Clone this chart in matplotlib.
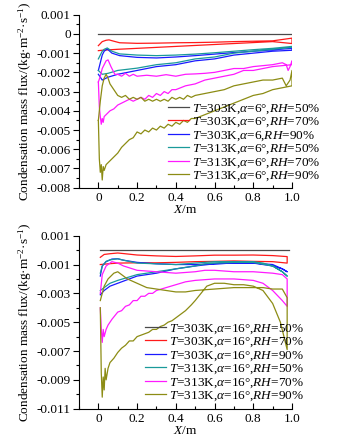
import numpy as np
import matplotlib
matplotlib.use("Agg")
import matplotlib.pyplot as plt
from matplotlib.ticker import MultipleLocator, FixedLocator, FixedFormatter

plt.rcParams['font.family'] = ['Liberation Serif', 'DejaVu Serif']
plt.rcParams['mathtext.fontset'] = 'custom'
plt.rcParams['mathtext.rm'] = 'Liberation Serif'
plt.rcParams['mathtext.it'] = 'Liberation Serif:italic'
plt.rcParams['axes.unicode_minus'] = False

# ---------------- top panel, alpha = 6 deg ----------------
a_black_x = [0.0, 1.0]
a_black_y = [0.0, 0.0]

a_red_up_x = [0, 0.02, 0.04, 0.055, 0.08, 0.11, 0.2, 0.3, 0.4, 0.5, 0.6, 0.7, 0.8, 0.9, 1.0]
a_red_up_y = [-0.00061, -0.0004, -0.00033, -0.00031, -0.00038, -0.00046, -0.00049, -0.00048,
              -0.00046, -0.00045, -0.00043, -0.0004, -0.00038, -0.00036, -0.00022]
a_red_lo_x = [0, 0.02, 0.05, 0.1, 0.2, 0.3, 0.4, 0.5, 0.6, 0.7, 0.8, 0.9, 1.0]
a_red_lo_y = [-0.00087, -0.00085, -0.00083, -0.0008, -0.00075, -0.0007, -0.00065, -0.0006,
              -0.00055, -0.0005, -0.00045, -0.0004, -0.0005]

a_blue_up_x = [0, 0.01, 0.02, 0.03, 0.046, 0.07, 0.11, 0.2, 0.3, 0.4, 0.5, 0.6, 0.7, 0.8, 0.9, 1.0]
a_blue_up_y = [-0.0019, -0.0015, -0.0011, -0.0009, -0.00078, -0.001, -0.00113, -0.00122, -0.00125,
               -0.0012, -0.00113, -0.00105, -0.00097, -0.0009, -0.00083, -0.00075]
a_blue_lo_x = [0, 0.02, 0.05, 0.1, 0.2, 0.3, 0.4, 0.5, 0.6, 0.7, 0.8, 0.9, 1.0]
a_blue_lo_y = [-0.0021, -0.0024, -0.00225, -0.0021, -0.0019, -0.0017, -0.0016, -0.0014, -0.0013,
               -0.0011, -0.001, -0.0009, -0.00085]

a_teal_up_x = [0, 0.01, 0.02, 0.03, 0.046, 0.07, 0.11, 0.2, 0.3, 0.4, 0.5, 0.6, 0.7, 0.8, 0.9, 1.0]
a_teal_up_y = [-0.0013, -0.0011, -0.0009, -0.0008, -0.00073, -0.0009, -0.00104, -0.0011, -0.00113,
               -0.0011, -0.00105, -0.00098, -0.0009, -0.00082, -0.00075, -0.00065]
a_teal_lo_x = [0, 0.02, 0.05, 0.1, 0.2, 0.3, 0.4, 0.5, 0.6, 0.7, 0.8, 0.9, 1.0]
a_teal_lo_y = [-0.0019, -0.0021, -0.00205, -0.0019, -0.00178, -0.0016, -0.0015, -0.0013, -0.0012,
               -0.001, -0.0009, -0.0008, -0.0007]

a_mag_up_x = [0, 0.01, 0.02, 0.03, 0.04, 0.05, 0.065, 0.085, 0.1, 0.12, 0.14, 0.16, 0.18, 0.2,
              0.25, 0.3, 0.35, 0.4, 0.45, 0.5, 0.55, 0.6, 0.65, 0.7, 0.75, 0.8, 0.85, 0.9, 0.95,
              0.97, 0.98, 0.99, 1.0]
a_mag_up_y = [-0.0025, -0.0022, -0.0018, -0.0016, -0.0014, -0.00135, -0.0017, -0.0021, -0.0021,
              -0.0022, -0.00205, -0.0022, -0.0021, -0.0022, -0.00215, -0.0022, -0.00212, -0.0022,
              -0.0021, -0.00208, -0.00205, -0.002, -0.0019, -0.0018, -0.0018, -0.0017, -0.00165,
              -0.0016, -0.0015, -0.0016, -0.0019, -0.0017, -0.0014]
a_mag_lo_x = [0, 0.005, 0.01, 0.015, 0.02, 0.025, 0.03, 0.04, 0.05, 0.06, 0.08, 0.1, 0.12, 0.14,
              0.16, 0.18, 0.2, 0.22, 0.24, 0.26, 0.28, 0.3, 0.32, 0.34, 0.36, 0.38, 0.4, 0.45, 0.5,
              0.55, 0.6, 0.65, 0.7, 0.75, 0.8, 0.85, 0.9, 0.95, 1.0]
a_mag_lo_y = [-0.0025, -0.0038, -0.0043, -0.0047, -0.0044, -0.0046, -0.0043, -0.0042, -0.0041,
              -0.004, -0.0039, -0.0037, -0.0036, -0.0035, -0.0034, -0.0035, -0.0034, -0.0033,
              -0.0034, -0.0032, -0.0033, -0.0031, -0.0032, -0.003, -0.0031, -0.0029, -0.0029,
              -0.0027, -0.0026, -0.0024, -0.0023, -0.0022, -0.0021, -0.0019, -0.0019, -0.0018,
              -0.0017, -0.00165, -0.0016]

a_olv_up_x = [0, 0.01, 0.02, 0.03, 0.04, 0.05, 0.06, 0.08, 0.1, 0.12, 0.14, 0.16, 0.18, 0.2, 0.22,
              0.24, 0.26, 0.28, 0.3, 0.32, 0.34, 0.36, 0.38, 0.4, 0.42, 0.44, 0.46, 0.48, 0.5,
              0.55, 0.6, 0.65, 0.7, 0.75, 0.8, 0.85, 0.9, 0.95, 0.97, 0.99, 1.0]
a_olv_up_y = [-0.0045, -0.0035, -0.0027, -0.0023, -0.0021, -0.0023, -0.0026, -0.0029, -0.0032,
              -0.0033, -0.0032, -0.0034, -0.0033, -0.0034, -0.0033, -0.0035, -0.0034, -0.0035,
              -0.0034, -0.0035, -0.0034, -0.0035, -0.0033, -0.0034, -0.0033, -0.0034, -0.0032,
              -0.0033, -0.0032, -0.0031, -0.003, -0.0029, -0.0027, -0.0026, -0.0025, -0.0024,
              -0.0024, -0.0023, -0.0027, -0.0024, -0.0019]
a_olv_lo_x = [0, 0.005, 0.01, 0.015, 0.02, 0.025, 0.03, 0.04, 0.05, 0.06, 0.08, 0.1, 0.12, 0.14,
              0.16, 0.18, 0.2, 0.22, 0.24, 0.26, 0.28, 0.3, 0.32, 0.34, 0.36, 0.38, 0.4, 0.42,
              0.44, 0.46, 0.48, 0.5, 0.55, 0.6, 0.65, 0.7, 0.75, 0.8, 0.85, 0.9, 0.95, 1.0]
a_olv_lo_y = [-0.0045, -0.0065, -0.0072, -0.0068, -0.0076, -0.0069, -0.0071, -0.0068, -0.0067,
              -0.0066, -0.0064, -0.0062, -0.0059, -0.0057, -0.0055, -0.0054, -0.0051, -0.0052,
              -0.005, -0.0051, -0.0049, -0.005, -0.0048, -0.0049, -0.0047, -0.0048, -0.0046,
              -0.0047, -0.0045, -0.0046, -0.0044, -0.0044, -0.0042, -0.004, -0.0038, -0.0036,
              -0.0034, -0.0032, -0.0031, -0.0029, -0.0028, -0.0027]

# ---------------- bottom panel, alpha = 16 deg ----------------
b_black_x = [0.01, 0.985]
b_black_y = [0.0, 0.0]

b_red_up_x = [0.01, 0.03, 0.06, 0.1, 0.13, 0.2, 0.3, 0.4, 0.5, 0.6, 0.7, 0.8, 0.9, 0.975]
b_red_up_y = [-0.0005, -0.0003, -0.00025, -0.0002, -0.00024, -0.00034, -0.0004, -0.00044,
              -0.0004, -0.00035, -0.00035, -0.00034, -0.00038, -0.00045]
b_red_lo_x = [0.01, 0.05, 0.1, 0.2, 0.3, 0.4, 0.5, 0.6, 0.7, 0.8, 0.9, 0.975]
b_red_lo_y = [-0.001, -0.00095, -0.0009, -0.00088, -0.00088, -0.00085, -0.0008, -0.00078,
              -0.00075, -0.00078, -0.0008, -0.0009]

b_blue_up_x = [0.01, 0.02, 0.04, 0.07, 0.1, 0.13, 0.2, 0.3, 0.4, 0.5, 0.6, 0.7, 0.8, 0.9, 0.95, 0.975]
b_blue_up_y = [-0.0018, -0.0011, -0.0008, -0.00062, -0.0006, -0.0007, -0.00085, -0.00095, -0.001,
               -0.001, -0.00095, -0.0009, -0.0009, -0.001, -0.0013, -0.0015]
b_blue_lo_x = [0.01, 0.03, 0.06, 0.1, 0.2, 0.3, 0.4, 0.5, 0.6, 0.7, 0.8, 0.9, 0.95, 0.975]
b_blue_lo_y = [-0.0031, -0.0028, -0.0025, -0.0023, -0.0018, -0.0016, -0.0013, -0.0011, -0.00095,
               -0.0009, -0.0009, -0.0011, -0.0013, -0.0015]

b_teal_up_x = [0.01, 0.02, 0.04, 0.06, 0.1, 0.13, 0.2, 0.3, 0.4, 0.5, 0.55, 0.6, 0.7, 0.8, 0.85,
               0.9, 0.95, 0.975]
b_teal_up_y = [-0.0016, -0.0011, -0.00078, -0.00068, -0.0006, -0.0007, -0.0009, -0.00095, -0.001,
               -0.0009, -0.00085, -0.0008, -0.0008, -0.0008, -0.0009, -0.0011, -0.0015, -0.0018]
b_teal_lo_x = [0.01, 0.03, 0.06, 0.1, 0.2, 0.3, 0.4, 0.5, 0.55, 0.6, 0.7, 0.8, 0.9, 0.95, 0.975]
b_teal_lo_y = [-0.0028, -0.0026, -0.0023, -0.0021, -0.0017, -0.0015, -0.0013, -0.0011, -0.00095,
               -0.0009, -0.00085, -0.00085, -0.0011, -0.0015, -0.0018]

b_mag_up_x = [0.01, 0.02, 0.04, 0.07, 0.1, 0.13, 0.2, 0.3, 0.4, 0.5, 0.55, 0.6, 0.7, 0.8, 0.9,
              0.95, 0.975]
b_mag_up_y = [-0.003, -0.0017, -0.0011, -0.0008, -0.0009, -0.0011, -0.0014, -0.0015, -0.0016,
              -0.0015, -0.0014, -0.0014, -0.0015, -0.0015, -0.0016, -0.0017, -0.002]
b_mag_lo_x = [0.01, 0.015, 0.02, 0.025, 0.03, 0.04, 0.05, 0.07, 0.1, 0.12, 0.14, 0.16, 0.18, 0.2,
              0.22, 0.24, 0.26, 0.28, 0.3, 0.35, 0.4, 0.45, 0.5, 0.6, 0.7, 0.8, 0.85, 0.9, 0.95, 0.975]
b_mag_lo_y = [-0.004, -0.0055, -0.0064, -0.0055, -0.006, -0.0055, -0.0052, -0.0048, -0.0043,
              -0.0042, -0.0039, -0.0038, -0.0035, -0.0035, -0.0032, -0.0032, -0.003, -0.003,
              -0.0028, -0.0026, -0.0024, -0.0022, -0.0021, -0.002, -0.002, -0.0021, -0.0023,
              -0.0028, -0.0035, -0.0039]

b_olv_up_x = [0.01, 0.03, 0.05, 0.08, 0.1, 0.12, 0.15, 0.2, 0.25, 0.3, 0.35, 0.4, 0.45, 0.5, 0.6,
              0.7, 0.75, 0.8, 0.85, 0.9, 0.95, 0.975]
b_olv_up_y = [-0.0035, -0.0025, -0.002, -0.0016, -0.0015, -0.0017, -0.002, -0.0023, -0.0026,
              -0.0027, -0.0028, -0.0029, -0.0029, -0.0028, -0.0027, -0.0026, -0.0026, -0.0026,
              -0.0026, -0.0027, -0.0027, -0.0033]
b_olv_lo_x = [0.01, 0.015, 0.02, 0.025, 0.03, 0.035, 0.04, 0.05, 0.06, 0.08, 0.1, 0.12, 0.14, 0.16,
              0.18, 0.2, 0.22, 0.24, 0.26, 0.28, 0.3, 0.32, 0.34, 0.36, 0.38, 0.4, 0.42, 0.45,
              0.48, 0.5, 0.53, 0.56, 0.6, 0.65, 0.7, 0.75, 0.8, 0.85, 0.9, 0.94, 0.975]
b_olv_lo_y = [-0.004, -0.0085, -0.0102, -0.0088, -0.0097, -0.0082, -0.009, -0.0082, -0.0078,
              -0.0075, -0.0071, -0.0068, -0.0066, -0.0063, -0.0063, -0.006, -0.0059, -0.0058,
              -0.0057, -0.0055, -0.0055, -0.0053, -0.0052, -0.005, -0.0049, -0.0047, -0.0045,
              -0.0042, -0.0038, -0.0035, -0.003, -0.0025, -0.0023, -0.0023, -0.0024, -0.0024,
              -0.0025, -0.0028, -0.0037, -0.005, -0.0069]

colors = ['#4a4a4a', '#ff1a1a', '#1a1aff', '#1a9a9a', '#ff1aff', '#8c8c14']
labels_a = [r'$T$=303K,$\alpha$=6°,$RH$=50%', r'$T$=303K,$\alpha$=6°,$RH$=70%',
            r'$T$=303K,$\alpha$=6,$RH$=90%', r'$T$=313K,$\alpha$=6°,$RH$=50%',
            r'$T$=313K,$\alpha$=6°,$RH$=70%', r'$T$=313K,$\alpha$=6°,$RH$=90%']
labels_b = [r'$T$=303K,$\alpha$=16°,$RH$=50%', r'$T$=303K,$\alpha$=16°,$RH$=70%',
            r'$T$=303K,$\alpha$=16°,$RH$=90%', r'$T$=313K,$\alpha$=16°,$RH$=50%',
            r'$T$=313K,$\alpha$=16°,$RH$=70%', r'$T$=313K,$\alpha$=16°,$RH$=90%']

top_series = [
    (a_black_x, a_black_y, None, None),
    (a_red_up_x, a_red_up_y, a_red_lo_x, a_red_lo_y),
    (a_blue_up_x, a_blue_up_y, a_blue_lo_x, a_blue_lo_y),
    (a_teal_up_x, a_teal_up_y, a_teal_lo_x, a_teal_lo_y),
    (a_mag_up_x, a_mag_up_y, a_mag_lo_x, a_mag_lo_y),
    (a_olv_up_x, a_olv_up_y, a_olv_lo_x, a_olv_lo_y),
]
bot_series = [
    (b_black_x, b_black_y, None, None),
    (b_red_up_x, b_red_up_y, b_red_lo_x, b_red_lo_y),
    (b_blue_up_x, b_blue_up_y, b_blue_lo_x, b_blue_lo_y),
    (b_teal_up_x, b_teal_up_y, b_teal_lo_x, b_teal_lo_y),
    (b_mag_up_x, b_mag_up_y, b_mag_lo_x, b_mag_lo_y),
    (b_olv_up_x, b_olv_up_y, b_olv_lo_x, b_olv_lo_y),
]

fs = 9.5
fig = plt.figure(figsize=(3.39, 4.42), dpi=100)
ax1 = fig.add_axes([79/339, 1-187.7/442, (292-79)/339, (187.7-14.7)/442])
ax2 = fig.add_axes([79/339, 1-408.7/442, (292-79)/339, (408.7-235.7)/442])


def draw(ax, series, labels, ymin, ymax, yticks, ylabels, leg_x, leg_y):
    for (ux, uy, lx, ly), c, lab in zip(series, colors, labels):
        if lx is None:
            xx, yy = ux, uy
        else:
            # trace one side forward, the other side back -> closed loop
            xx = list(ux) + list(lx)[::-1]
            yy = list(uy) + list(ly)[::-1]
        ax.plot(xx, yy, color=c, lw=0.9, label=lab)
    ax.set_xlim(-0.1, 1.0)
    ax.set_ylim(ymin, ymax)
    ax.spines['top'].set_visible(False)
    ax.spines['right'].set_visible(False)
    ax.spines['left'].set_linewidth(0.8)
    ax.spines['bottom'].set_linewidth(0.8)
    ax.set_xticks([0, 0.2, 0.4, 0.6, 0.8, 1.0])
    ax.set_xticklabels(['0', '0.2', '0.4', '0.6', '0.8', '1.0'])
    ax.xaxis.set_minor_locator(MultipleLocator(0.1))
    ax.yaxis.set_major_locator(FixedLocator(yticks))
    ax.yaxis.set_major_formatter(FixedFormatter(ylabels))
    ax.yaxis.set_minor_locator(MultipleLocator(0.0005 if ymin > -0.009 else 0.001))
    ax.tick_params(axis='x', which='both', direction='in', labelsize=fs, pad=3)
    ax.tick_params(axis='x', which='major', length=4, width=0.8)
    ax.tick_params(axis='x', which='minor', length=2.5, width=0.8)
    ax.tick_params(axis='y', which='both', direction='out', labelsize=fs, pad=2)
    ax.tick_params(axis='y', which='major', length=4, width=0.8)
    ax.tick_params(axis='y', which='minor', length=2.5, width=0.8)
    ax.set_xlabel(r'$X$/m', fontsize=fs, labelpad=0)
    ax.set_ylabel(r'Condensation mass flux/(kg·m$^{-2}$·s$^{-1}$)', fontsize=fs, labelpad=2)
    ax.legend(loc='upper left', bbox_to_anchor=(leg_x, leg_y), bbox_transform=fig.transFigure,
              frameon=False, fontsize=fs, handlelength=1.6, handletextpad=0.25,
              labelspacing=0.0, borderpad=0, borderaxespad=0)


draw(ax1, top_series, labels_a, -0.008, 0.001,
     [0.001, 0, -0.001, -0.002, -0.003, -0.004, -0.005, -0.006, -0.007, -0.008],
     ['0.001', '0', '-0.001', '-0.002', '-0.003', '-0.004', '-0.005', '-0.006', '-0.007', '-0.008'],
     168/339, 1-102/442)
draw(ax2, bot_series, labels_b, -0.011, 0.001,
     [0.001, -0.001, -0.003, -0.005, -0.007, -0.009, -0.011],
     ['0.001', '-0.001', '-0.003', '-0.005', '-0.007', '-0.009', '-0.011'],
     145/339, 1-322/442)

fig.savefig('out.png', dpi=100)
